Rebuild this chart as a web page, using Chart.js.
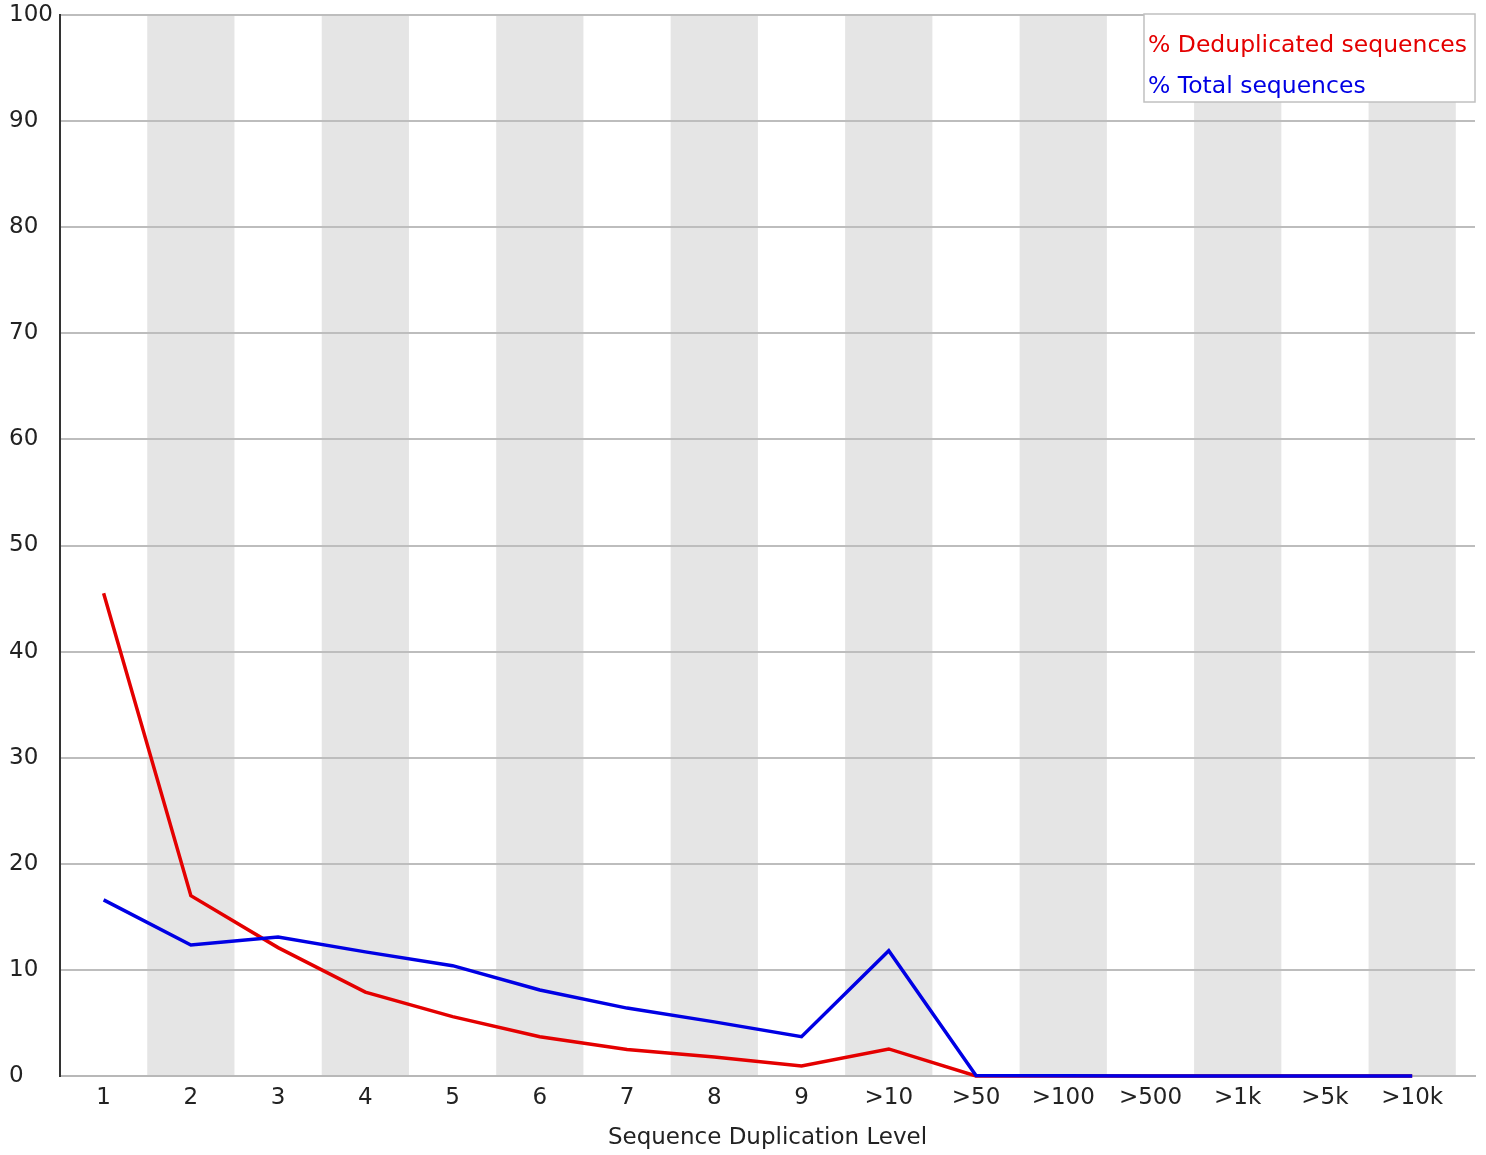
<!DOCTYPE html>
<html>
<head>
<meta charset="utf-8">
<title>Sequence Duplication Levels</title>
<script src="https://cdn.jsdelivr.net/npm/chart.js@4.4.0/dist/chart.umd.min.js"></script>
<style>
  html, body { margin: 0; padding: 0; background: #fff; }
  #wrap { width: 1486px; height: 1155px; }
</style>
</head>
<body>
<div id="wrap"><canvas id="myChart" width="1486" height="1155"></canvas></div>
<script>
const levels = ['1', '2', '3', '4', '5', '6', '7', '8', '9', '>10', '>50', '>100', '>500', '>1k', '>5k', '>10k'];
const dedupPct = [45.5, 17.0, 12.1, 7.9, 5.6, 3.7, 2.5, 1.8, 0.95, 2.55, 0, 0, 0, 0, 0, 0];
const totalPct = [16.6, 12.35, 13.1, 11.7, 10.4, 8.1, 6.4, 5.1, 3.7, 11.8, 0.05, 0.02, 0.01, 0, 0, 0];

const RED = 'rgb(228, 0, 0)';
const BLUE = 'rgb(0, 0, 228)';
const FONT = "'DejaVu Sans', 'Liberation Sans', sans-serif";

// grey bands behind every second category
const bands = {
  id: 'bands',
  beforeDraw(chart) {
    const {ctx, chartArea, scales} = chart;
    ctx.save();
    ctx.fillStyle = '#e5e5e5';
    for (let i = 1; i < levels.length; i += 2) {
      const x0 = scales.x.getPixelForValue(i - 0.5);
      const x1 = scales.x.getPixelForValue(i + 0.5);
      ctx.fillRect(x0, chartArea.top, x1 - x0, chartArea.bottom - chartArea.top);
    }
    ctx.restore();
  }
};

// boxed legend in the top right corner, coloured text only
const boxLegend = {
  id: 'boxLegend',
  afterDraw(chart) {
    const {ctx, chartArea} = chart;
    const sets = chart.data.datasets;
    ctx.save();
    ctx.font = '23.5px ' + FONT;
    let w = 0;
    sets.forEach(d => { w = Math.max(w, ctx.measureText(d.label).width); });
    const right = chartArea.right;
    const top = chartArea.top - 1;
    const bw = w + 12, bh = 88;
    const left = right - bw;
    ctx.fillStyle = '#fff';
    ctx.fillRect(left, top, bw, bh);
    ctx.strokeStyle = '#c0c0c0';
    ctx.lineWidth = 1.5;
    ctx.strokeRect(left, top, bw, bh);
    ctx.textBaseline = 'middle';
    ctx.textAlign = 'left';
    sets.forEach((d, i) => {
      ctx.fillStyle = d.borderColor;
      ctx.fillText(d.label, left + 4, top + 32 + i * 41);
    });
    ctx.restore();
  }
};

const config = {
  type: 'line',
  data: {
    datasets: [
      {
        label: '% Deduplicated sequences',
        data: dedupPct.map((v, i) => ({x: i, y: v})),
        borderColor: RED,
        backgroundColor: RED,
        borderWidth: 3.5,
        pointRadius: 0,
        tension: 0,
        clip: false,
        order: 1
      },
      {
        label: '% Total sequences',
        data: totalPct.map((v, i) => ({x: i, y: v})),
        borderColor: BLUE,
        backgroundColor: BLUE,
        borderWidth: 3.5,
        pointRadius: 0,
        tension: 0,
        clip: false,
        order: 0
      }
    ]
  },
  options: {
    responsive: false,
    animation: false,
    events: [],
    layout: { padding: { left: 9, right: 11, top: 15, bottom: 0 } },
    plugins: {
      legend: { display: false },
      tooltip: { enabled: false }
    },
    scales: {
      x: {
        type: 'linear',
        min: -0.5,
        max: 15.72,
        afterFit: s => { s.height = 79; },
        grid: { display: false, drawTicks: false },
        border: { display: true, color: '#b8b8b8', width: 2 },
        ticks: {
          stepSize: 1,
          includeBounds: false,
          autoSkip: false,
          maxRotation: 0,
          padding: 8,
          color: '#222',
          font: { family: FONT, size: 23 },
          callback: v => (Number.isInteger(v) && levels[v] !== undefined) ? levels[v] : ''
        },
        title: {
          display: true,
          text: 'Sequence Duplication Level',
          color: '#222',
          font: { family: FONT, size: 23 },
          padding: { top: 0, bottom: 3 }
        }
      },
      y: {
        min: 0,
        max: 100,
        afterFit: s => { s.width = 51; },
        grid: { color: '#bdbdbd', lineWidth: 2, drawTicks: false },
        border: { display: true, color: '#333', width: 2 },
        ticks: {
          stepSize: 10,
          crossAlign: 'far',
          padding: 0,
          color: '#222',
          font: { family: FONT, size: 23 }
        }
      }
    }
  },
  plugins: [bands, boxLegend]
};

const myChart = new Chart(document.getElementById('myChart'), config);
</script>
</body>
</html>
